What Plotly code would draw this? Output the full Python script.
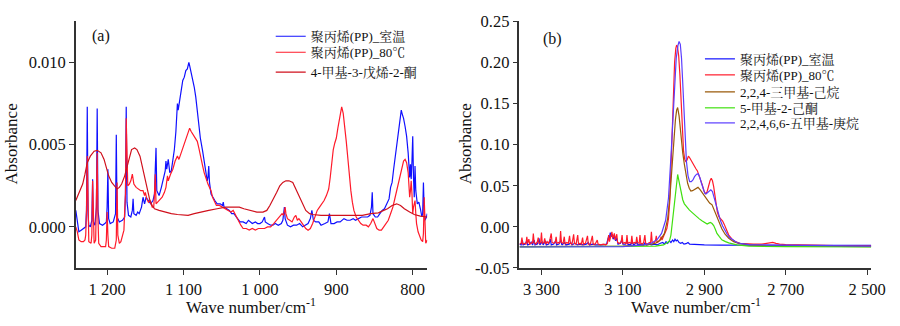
import plotly.graph_objects as go

# ---------------- Panel (a) data: (wavenumber, absorbance) ----------------
A_PP_RT = [
    (1241, 0.0010), (1239, 0.0004), (1237, -0.0003), (1234, -0.0002), (1230, -0.0001), (1228, 0.0000),
    (1227, 0.0010), (1226, 0.0073), (1225, 0.0008), (1224, 0.0001), (1222, 0.0000), (1220, 0.0004),
    (1219, 0.0029), (1218, 0.0003), (1216, 0.0001), (1214, 0.0012), (1213, 0.0072), (1212, 0.0010),
    (1210, 0.0002), (1206, 0.0001), (1203, 0.0002), (1201, 0.0003), (1200, 0.0012), (1199, 0.0035),
    (1198, 0.0005), (1196, 0.0002), (1192, 0.0003), (1189, 0.0008), (1188, 0.0056), (1187, 0.0006),
    (1184, 0.0003), (1180, 0.0004), (1177, 0.0006), (1176, 0.0020), (1175, 0.0073), (1174, 0.0015),
    (1172, 0.0007), (1169, 0.0006), (1167, 0.0010), (1166, 0.0017), (1165, 0.0008), (1162, 0.0007),
    (1160, 0.0009), (1158, 0.0008), (1155, 0.0012), (1153, 0.0018), (1151, 0.0014), (1149, 0.0018),
    (1146, 0.0016), (1143, 0.0014), (1140, 0.0016), (1138, 0.0020), (1137, 0.0035), (1136, 0.0048),
    (1135, 0.0022), (1132, 0.0019), (1129, 0.0024), (1126, 0.0029), (1124, 0.0034), (1123, 0.0040),
    (1122, 0.0035), (1120, 0.0041), (1118, 0.0033), (1116, 0.0034), (1114, 0.0040), (1112, 0.0047),
    (1110, 0.0058), (1108, 0.0075), (1107, 0.0071), (1105, 0.0078), (1103, 0.0084), (1101, 0.0089),
    (1099, 0.0091), (1097, 0.0095), (1095, 0.0096), (1093, 0.0100), (1092, 0.0098), (1091, 0.0096),
    (1089, 0.0093), (1086, 0.0085), (1084, 0.0079), (1082, 0.0070), (1080, 0.0062), (1078, 0.0054),
    (1075, 0.0046), (1073, 0.0041), (1071, 0.0034), (1069, 0.0028), (1068, 0.0030), (1067, 0.0037),
    (1066, 0.0027), (1064, 0.0020), (1062, 0.0018), (1059, 0.0016), (1056, 0.0014), (1052, 0.0014),
    (1049, 0.0013), (1048, 0.0015), (1047, 0.0012), (1044, 0.0011), (1040, 0.0010), (1037, 0.0008),
    (1034, 0.0008), (1031, 0.0006), (1029, 0.0005), (1026, 0.0003), (1022, 0.0003), (1018, 0.0002),
    (1015, 0.0004), (1013, 0.0003), (1010, 0.0002), (1006, 0.0003), (1003, 0.0002), (1000, 0.0002),
    (997, 0.0003), (994, 0.0006), (993, 0.0003), (990, 0.0002), (986, 0.0001), (983, 0.0001),
    (980, 0.0002), (976, 0.0001), (972, 0.0002), (970, 0.0004), (968, 0.0012), (967, 0.0005),
    (964, 0.0001), (960, 0.0000), (956, 0.0001), (952, 0.0001), (948, 0.0002), (944, 0.0000),
    (940, 0.0001), (937, 0.0002), (934, 0.0005), (932, 0.0010), (930, 0.0004), (927, 0.0003),
    (923, 0.0003), (920, 0.0001), (915, 0.0002), (911, 0.0003), (909, 0.0008), (907, 0.0002),
    (903, 0.0002), (899, 0.0003), (895, 0.0003), (890, 0.0005), (886, 0.0004), (882, 0.0004),
    (878, 0.0005), (875, 0.0004), (871, 0.0005), (867, 0.0006), (863, 0.0006), (859, 0.0006),
    (856, 0.0007), (854, 0.0012), (853, 0.0021), (852, 0.0008), (849, 0.0006), (846, 0.0006),
    (843, 0.0008), (840, 0.0010), (837, 0.0011), (834, 0.0014), (831, 0.0017), (829, 0.0024),
    (827, 0.0027), (825, 0.0035), (823, 0.0043), (821, 0.0050), (819, 0.0058), (817, 0.0065),
    (815, 0.0071), (814, 0.0069), (812, 0.0066), (810, 0.0061), (808, 0.0055), (806, 0.0045),
    (805, 0.0035), (804, 0.0030), (803, 0.0038), (802, 0.0029), (801, 0.0040), (800, 0.0055),
    (799, 0.0030), (798, 0.0018), (797, 0.0037), (796, 0.0022), (794, 0.0014), (792, 0.0015),
    (790, 0.0011), (788, 0.0006), (787, 0.0008), (786, 0.0027), (785, 0.0010), (784, 0.0004),
    (782, 0.0006), (781, 0.0008),
]

A_PP_80 = [
    (1241, 0.0000), (1239, -0.0003), (1237, -0.0008), (1234, -0.0009), (1231, -0.0009), (1229, -0.0008),
    (1228, -0.0005), (1227, 0.0010), (1226, 0.0043), (1225, 0.0004), (1224, -0.0009), (1221, -0.0010),
    (1220, -0.0005), (1219, 0.0028), (1218, -0.0003), (1217, -0.0010), (1215, -0.0008), (1214, 0.0010),
    (1213, 0.0045), (1212, 0.0005), (1211, -0.0010), (1208, -0.0012), (1205, -0.0012), (1202, -0.0012),
    (1201, -0.0008), (1200, 0.0009), (1199, -0.0005), (1198, -0.0012), (1194, -0.0013), (1190, -0.0013),
    (1188, -0.0008), (1187, 0.0027), (1186, -0.0005), (1184, -0.0010), (1182, -0.0009), (1180, -0.0006),
    (1178, -0.0002), (1177, 0.0010), (1176, 0.0020), (1175, 0.0066), (1174, 0.0030), (1173, 0.0025),
    (1171, 0.0026), (1169, 0.0028), (1167, 0.0032), (1165, 0.0026), (1162, 0.0024), (1159, 0.0023),
    (1156, 0.0022), (1153, 0.0022), (1151, 0.0019), (1150, 0.0021), (1148, 0.0017), (1146, 0.0015),
    (1144, 0.0016), (1141, 0.0012), (1139, 0.0012), (1138, 0.0020), (1137, 0.0032), (1136, 0.0014),
    (1134, 0.0015), (1131, 0.0016), (1128, 0.0018), (1125, 0.0021), (1123, 0.0024), (1121, 0.0031),
    (1120, 0.0028), (1117, 0.0032), (1114, 0.0035), (1111, 0.0040), (1108, 0.0043), (1106, 0.0041),
    (1103, 0.0045), (1100, 0.0048), (1097, 0.0052), (1094, 0.0056), (1092, 0.0060), (1090, 0.0058),
    (1087, 0.0056), (1084, 0.0054), (1082, 0.0052), (1080, 0.0048), (1078, 0.0043), (1075, 0.0037),
    (1073, 0.0033), (1070, 0.0028), (1068, 0.0026), (1066, 0.0024), (1064, 0.0022), (1062, 0.0018),
    (1060, 0.0016), (1057, 0.0013), (1053, 0.0013), (1049, 0.0012), (1045, 0.0011), (1041, 0.0010),
    (1038, 0.0009), (1035, 0.0010), (1033, 0.0008), (1031, 0.0006), (1028, 0.0004), (1025, 0.0001),
    (1022, -0.0001), (1018, -0.0001), (1014, -0.0002), (1010, -0.0001), (1006, -0.0002), (1002, -0.0001),
    (998, -0.0001), (994, -0.0001), (990, 0.0000), (986, 0.0000), (982, 0.0002), (978, 0.0004),
    (974, 0.0006), (971, 0.0008), (969, 0.0007), (967, 0.0012), (966, 0.0008), (964, 0.0005),
    (961, 0.0004), (958, 0.0003), (955, 0.0006), (953, 0.0007), (951, 0.0004), (949, 0.0005),
    (946, 0.0003), (943, 0.0001), (940, -0.0001), (937, -0.0002), (934, -0.0001), (931, 0.0002),
    (928, 0.0006), (925, 0.0010), (922, 0.0012), (919, 0.0014), (916, 0.0016), (913, 0.0019),
    (910, 0.0023), (908, 0.0030), (906, 0.0040), (904, 0.0047), (902, 0.0051), (900, 0.0054),
    (898, 0.0060), (896, 0.0065), (894, 0.0070), (893, 0.0073), (891, 0.0069), (889, 0.0062),
    (887, 0.0052), (885, 0.0042), (883, 0.0031), (881, 0.0022), (879, 0.0015), (877, 0.0010),
    (874, 0.0006), (871, 0.0004), (868, 0.0002), (865, 0.0001), (861, 0.0001), (858, 0.0000),
    (855, 0.0002), (852, 0.0005), (850, 0.0002), (847, -0.0001), (844, -0.0002), (841, -0.0002),
    (838, 0.0000), (835, 0.0002), (832, 0.0004), (829, 0.0008), (826, 0.0012), (823, 0.0018),
    (820, 0.0024), (817, 0.0030), (815, 0.0035), (812, 0.0040), (810, 0.0041), (808, 0.0039),
    (806, 0.0033), (805, 0.0024), (804, 0.0018), (803, 0.0022), (802, 0.0028), (801, 0.0020),
    (800, 0.0008), (799, 0.0012), (797, 0.0016), (796, 0.0008), (795, 0.0002), (793, -0.0003),
    (791, -0.0006), (789, -0.0008), (787, -0.0009), (786, -0.0004), (785, 0.0018), (784, -0.0006),
    (783, -0.0010), (782, -0.0009), (781, -0.0008),
]

A_MPO = [
    (1241, 0.0016), (1236, 0.0021), (1232, 0.0026), (1229, 0.0032), (1226, 0.0039), (1222, 0.0043),
    (1217, 0.0046), (1213, 0.00465), (1208, 0.0045), (1204, 0.0041), (1201, 0.0036), (1198, 0.0031),
    (1194, 0.0027), (1191, 0.0025), (1187, 0.0023), (1184, 0.0024), (1181, 0.0026), (1177, 0.0031),
    (1174, 0.0037), (1171, 0.0043), (1168, 0.0047), (1164, 0.0048), (1161, 0.0047), (1157, 0.0043),
    (1154, 0.0037), (1151, 0.0030), (1147, 0.0022), (1144, 0.0016), (1141, 0.0013), (1138, 0.0011),
    (1132, 0.0010), (1125, 0.0009), (1116, 0.0008), (1108, 0.00075), (1100, 0.0007), (1094, 0.0007),
    (1086, 0.0008), (1078, 0.0009), (1067, 0.0010), (1056, 0.0011), (1045, 0.0012), (1035, 0.0012),
    (1027, 0.0012), (1021, 0.0011), (1012, 0.0010), (1004, 0.0009), (996, 0.0009), (991, 0.0010),
    (987, 0.0013), (982, 0.0017), (978, 0.0021), (974, 0.0025), (970, 0.0027), (966, 0.0028),
    (962, 0.0028), (957, 0.0027), (953, 0.0023), (948, 0.0019), (944, 0.0014), (940, 0.0010),
    (935, 0.0008), (931, 0.00075), (920, 0.0007), (910, 0.0007), (898, 0.0007), (888, 0.0007),
    (877, 0.0007), (866, 0.0007), (855, 0.0008), (845, 0.00085), (838, 0.0010), (833, 0.0011),
    (827, 0.0013), (821, 0.0014), (816, 0.0013), (811, 0.0011), (804, 0.0009), (798, 0.00075),
    (790, 0.00065), (781, 0.0006),
]

# ---------------- Panel (b) data ----------------
B_PP_RT = [
    (3354, -0.021), (3350, -0.022), (3347, -0.016), (3345, -0.022), (3340, -0.021), (3336, -0.017),
    (3334, -0.022), (3328, -0.021), (3325, -0.018), (3322, -0.022), (3318, -0.016), (3316, -0.022),
    (3310, -0.021), (3306, -0.014), (3304, -0.022), (3298, -0.018), (3296, -0.022), (3290, -0.017),
    (3288, -0.022), (3282, -0.021), (3278, -0.015), (3276, -0.022), (3270, -0.021), (3265, -0.017),
    (3263, -0.022), (3257, -0.021), (3252, -0.016), (3250, -0.022), (3243, -0.019), (3240, -0.022),
    (3232, -0.021), (3228, -0.019), (3225, -0.022), (3218, -0.020), (3212, -0.022), (3205, -0.021),
    (3198, -0.022), (3190, -0.021), (3185, -0.019), (3182, -0.022), (3174, -0.021), (3168, -0.022),
    (3160, -0.022), (3150, -0.022), (3140, -0.021), (3136, -0.013), (3134, -0.016), (3131, -0.007),
    (3129, -0.012), (3126, -0.009), (3124, -0.015), (3121, -0.011), (3118, -0.017), (3115, -0.014),
    (3112, -0.021), (3106, -0.020), (3103, -0.016), (3100, -0.021), (3094, -0.021), (3090, -0.018),
    (3087, -0.022), (3080, -0.021), (3077, -0.018), (3074, -0.022), (3066, -0.019), (3063, -0.022),
    (3056, -0.021), (3050, -0.022), (3045, -0.019), (3042, -0.022), (3035, -0.021), (3030, -0.022),
    (3022, -0.021), (3016, -0.022), (3008, -0.020), (3002, -0.019), (2998, -0.021), (2994, -0.018),
    (2990, -0.020), (2986, -0.017), (2982, -0.019), (2978, -0.016), (2975, -0.018), (2972, -0.015),
    (2969, -0.017), (2966, -0.016), (2962, -0.019), (2958, -0.020), (2954, -0.019), (2950, -0.021),
    (2945, -0.0205), (2940, -0.019), (2936, -0.021), (2925, -0.0215), (2900, -0.022), (2860, -0.0222),
    (2800, -0.0225), (2700, -0.0225), (2600, -0.0225), (2490, -0.0225),
]

B_PP_80 = [
    (3354, -0.021), (3350, -0.020), (3348, -0.013), (3346, -0.021), (3342, -0.020), (3338, -0.021),
    (3336, -0.012), (3334, -0.020), (3331, -0.015), (3329, -0.021), (3324, -0.019), (3322, -0.020),
    (3320, -0.008), (3318, -0.019), (3314, -0.021), (3310, -0.018), (3308, -0.013), (3306, -0.020),
    (3302, -0.019), (3300, -0.007), (3298, -0.020), (3294, -0.019), (3292, -0.014), (3290, -0.021),
    (3286, -0.018), (3283, -0.020), (3280, -0.017), (3276, -0.008), (3274, -0.019), (3270, -0.020),
    (3266, -0.018), (3264, -0.012), (3262, -0.020), (3258, -0.019), (3255, -0.020), (3253, -0.005),
    (3251, -0.019), (3247, -0.020), (3244, -0.012), (3242, -0.021), (3238, -0.019), (3234, -0.020),
    (3231, -0.011), (3229, -0.020), (3225, -0.021), (3221, -0.009), (3219, -0.020), (3215, -0.021),
    (3211, -0.010), (3209, -0.021), (3205, -0.020), (3202, -0.021), (3199, -0.013), (3197, -0.021),
    (3192, -0.020), (3187, -0.011), (3185, -0.021), (3180, -0.021), (3175, -0.011), (3173, -0.021),
    (3168, -0.021), (3163, -0.016), (3161, -0.021), (3155, -0.022), (3148, -0.021), (3142, -0.022),
    (3138, -0.020), (3135, -0.010), (3133, -0.018), (3130, -0.013), (3127, -0.006), (3125, -0.014),
    (3123, -0.010), (3121, -0.008), (3119, -0.016), (3117, -0.013), (3115, -0.009), (3113, -0.019),
    (3108, -0.020), (3104, -0.018), (3102, -0.010), (3100, -0.020), (3095, -0.019), (3092, -0.021),
    (3090, -0.010), (3088, -0.020), (3084, -0.019), (3080, -0.020), (3078, -0.011), (3076, -0.020),
    (3071, -0.019), (3068, -0.020), (3066, -0.012), (3064, -0.019), (3060, -0.020), (3058, -0.010),
    (3056, -0.020), (3052, -0.021), (3049, -0.019), (3046, -0.010), (3044, -0.020), (3040, -0.021),
    (3035, -0.019), (3032, -0.020), (3030, -0.006), (3028, -0.019), (3024, -0.020), (3020, -0.017),
    (3018, -0.011), (3016, -0.019), (3012, -0.018), (3008, -0.015), (3006, -0.012), (3004, -0.016),
    (3000, -0.012), (2996, -0.008), (2992, -0.002), (2988, 0.010), (2985, 0.030), (2982, 0.070),
    (2979, 0.120), (2976, 0.165), (2973, 0.200), (2970, 0.217), (2968, 0.221), (2966, 0.219),
    (2963, 0.208), (2960, 0.185), (2957, 0.150), (2954, 0.115), (2951, 0.092), (2948, 0.082),
    (2945, 0.079), (2942, 0.082), (2939, 0.086), (2936, 0.084), (2932, 0.080), (2929, 0.078),
    (2925, 0.074), (2921, 0.071), (2917, 0.068), (2913, 0.063), (2909, 0.057), (2905, 0.051),
    (2901, 0.044), (2897, 0.040), (2893, 0.043), (2889, 0.051), (2886, 0.056), (2883, 0.059),
    (2880, 0.056), (2877, 0.049), (2874, 0.038), (2871, 0.027), (2868, 0.018), (2864, 0.012),
    (2859, 0.009), (2855, 0.007), (2851, 0.003), (2846, -0.004), (2840, -0.010), (2832, -0.015),
    (2824, -0.018), (2812, -0.020), (2800, -0.0205), (2780, -0.021), (2760, -0.021), (2745, -0.020),
    (2738, -0.019), (2732, -0.019), (2724, -0.020), (2715, -0.021), (2700, -0.0215), (2660, -0.022),
    (2600, -0.0225), (2550, -0.023), (2490, -0.023),
]

B_TMH = [
    (3354, -0.024), (3100, -0.0235), (3040, -0.022), (3020, -0.020), (3008, -0.016), (2998, -0.008),
    (2990, 0.010), (2984, 0.040), (2979, 0.075), (2975, 0.105), (2971, 0.130), (2968, 0.142),
    (2965.5, 0.145), (2962, 0.135), (2957.5, 0.110), (2953, 0.090), (2949, 0.076), (2945, 0.062),
    (2941, 0.053), (2937, 0.047), (2933, 0.0435), (2929, 0.044), (2925, 0.045), (2920, 0.047),
    (2915.5, 0.048), (2910, 0.045), (2905, 0.0415), (2899, 0.036), (2893, 0.032), (2887, 0.029),
    (2881, 0.0267), (2875, 0.019), (2869, 0.011), (2863, 0.004), (2857, -0.0023), (2849, -0.009),
    (2840, -0.0138), (2828, -0.018), (2816, -0.020), (2790, -0.022), (2750, -0.023), (2650, -0.0235),
    (2490, -0.024),
]

B_MHK = [
    (3354, -0.0245), (3100, -0.024), (3020, -0.0235), (3000, -0.022), (2992, -0.020), (2986, -0.0176),
    (2982, -0.010), (2978, 0.0072), (2974, 0.028), (2971, 0.045), (2968, 0.058), (2965.5, 0.0637),
    (2962, 0.055), (2957.5, 0.0416), (2953, 0.033), (2949, 0.028), (2943, 0.024), (2937, 0.0206),
    (2929, 0.017), (2921, 0.013), (2913, 0.010), (2905, 0.0072), (2899, 0.005), (2893, 0.0034),
    (2889, 0.0045), (2885, 0.0053), (2881, 0.004), (2877, 0.0015), (2873, -0.003), (2869, -0.008),
    (2863, -0.012), (2857, -0.0157), (2848, -0.018), (2840, -0.0195), (2820, -0.022), (2790, -0.0235),
    (2700, -0.024), (2490, -0.0245),
]

B_PMH = [
    (3354, -0.0245), (3200, -0.0245), (3100, -0.024), (3050, -0.022), (3030, -0.020), (3015, -0.015),
    (3005, -0.008), (2995, 0.008), (2988, 0.035), (2982, 0.085), (2977, 0.135), (2973, 0.175),
    (2969, 0.205), (2965, 0.220), (2962, 0.2255), (2959, 0.222), (2956, 0.205), (2953, 0.175),
    (2950, 0.140), (2947, 0.105), (2944, 0.080), (2940, 0.062), (2936, 0.055), (2932, 0.055),
    (2928, 0.057), (2924, 0.061), (2919, 0.064), (2915, 0.0645), (2911, 0.060), (2907, 0.053),
    (2903, 0.046), (2899, 0.041), (2896, 0.040), (2892, 0.042), (2888, 0.044), (2884, 0.045),
    (2880, 0.043), (2876, 0.036), (2872, 0.028), (2868, 0.020), (2864, 0.013), (2860, 0.007),
    (2855, 0.001), (2850, -0.004), (2844, -0.009), (2838, -0.013), (2830, -0.016), (2820, -0.019),
    (2808, -0.0205), (2790, -0.0215), (2760, -0.022), (2700, -0.0225), (2600, -0.023), (2490, -0.0235),
]

A_XTICKS = [1200, 1100, 1000, 900, 800]
A_XTICKTEXT = ["1 200", "1 100", "1 000", "900", "800"]
A_YTICKS = [0.000, 0.005, 0.010]
A_YTICKTEXT = ["0.000", "0.005", "0.010"]
B_XTICKS = [3300, 3100, 2900, 2700, 2500]
B_XTICKTEXT = ["3 300", "3 100", "2 900", "2 700", "2 500"]
B_YTICKS = [-0.05, 0.00, 0.05, 0.10, 0.15, 0.20, 0.25]
B_YTICKTEXT = ["-0.05", "0.00", "0.05", "0.10", "0.15", "0.20", "0.25"]

FONT = "Liberation Serif, Noto Serif CJK SC, serif"
W, H = 900, 326

# one small legend per entry so the rows sit where the reference has them
# (name, points, colour, x-axis, y-axis, legend id, legend x px, legend row centre px)
SERIES = [
    ("聚丙烯(PP)_室温", A_PP_RT, "#1010ff", "x", "y", "legend", 275, 29),
    ("聚丙烯(PP)_80℃", A_PP_80, "#ff1a2a", "x", "y", "legend2", 275, 46),
    ("4-甲基-3-戊烯-2-酮", A_MPO, "#d0101c", "x", "y", "legend3", 275, 67),
    ("聚丙烯(PP)_室温", B_PP_RT, "#1010ff", "x2", "y2", "legend4", 711, 53),
    ("聚丙烯(PP)_80℃", B_PP_80, "#ff1a2a", "x2", "y2", "legend5", 711, 70),
    ("2,2,4-三甲基-己烷", B_TMH, "#9a5a0a", "x2", "y2", "legend6", 711, 88),
    ("5-甲基-2-己酮", B_MHK, "#40e010", "x2", "y2", "legend7", 711, 105),
    ("2,2,4,6,6-五甲基-庚烷", B_PMH, "#5a3cff", "x2", "y2", "legend8", 711, 121),
]

fig = go.Figure()
legends = {}
for name, pts, color, xa, ya, lg, lx, ly in SERIES:
    fig.add_trace(go.Scatter(x=[p[0] for p in pts], y=[p[1] for p in pts], mode="lines", name=name,
                             line=dict(color=color, width=1.2), xaxis=xa, yaxis=ya, legend=lg))
    legends[lg] = dict(x=lx / W, y=1 - ly / H, xanchor="left", yanchor="middle",
                       bgcolor="rgba(0,0,0,0)", borderwidth=0, itemwidth=30,
                       font=dict(family=FONT, size=13, color="#111111"))

ydom = [1 - 275 / H, 1 - 13 / H]
axis_common = dict(showline=True, linecolor="#333333", linewidth=1.5, ticks="outside", ticklen=5,
                   tickwidth=1.2, tickcolor="#333333", showgrid=False, zeroline=False,
                   tickfont=dict(family=FONT, size=16.5, color="#111111"))

fig.update_layout(
    width=W, height=H, margin=dict(l=0, r=0, t=0, b=0),
    paper_bgcolor="white", plot_bgcolor="white",
    font=dict(family=FONT, color="#111111"),
    xaxis=dict(domain=[77 / W, 434 / W], range=[1241, 781], tickvals=A_XTICKS, ticktext=A_XTICKTEXT,
               anchor="y", **axis_common),
    yaxis=dict(domain=ydom, range=[-0.0025, 0.0125], tickvals=A_YTICKS, ticktext=A_YTICKTEXT,
               anchor="x", **axis_common),
    xaxis2=dict(domain=[527.7 / W, 885 / W], range=[3354, 2490], tickvals=B_XTICKS, ticktext=B_XTICKTEXT,
                anchor="y2", **axis_common),
    yaxis2=dict(domain=ydom, range=[-0.05, 0.25], tickvals=B_YTICKS, ticktext=B_YTICKTEXT,
                anchor="x2", **axis_common),
    showlegend=True,
    **legends,
)

ann = [
    dict(text="(a)", x=103 / W, y=1 - 29 / H, font=dict(size=16)),
    dict(text="(b)", x=561 / W, y=1 - 32 / H, font=dict(size=16)),
    dict(text="Absorbance", x=12 / W, y=1 - 143 / H, textangle=-90, font=dict(size=17)),
    dict(text="Absorbance", x=473 / W, y=1 - 143 / H, textangle=-90, font=dict(size=17)),
    dict(text="Wave number/cm<sup>-1</sup>", x=255 / W, y=1 - 315 / H, font=dict(size=17)),
    dict(text="Wave number/cm<sup>-1</sup>", x=707 / W, y=1 - 315 / H, font=dict(size=17)),
]
for a in ann:
    a.update(xref="paper", yref="paper", showarrow=False, xanchor="center", yanchor="middle")
    a["font"].update(family=FONT, color="#111111")
fig.update_layout(annotations=ann)

fig.write_html("out.html")
